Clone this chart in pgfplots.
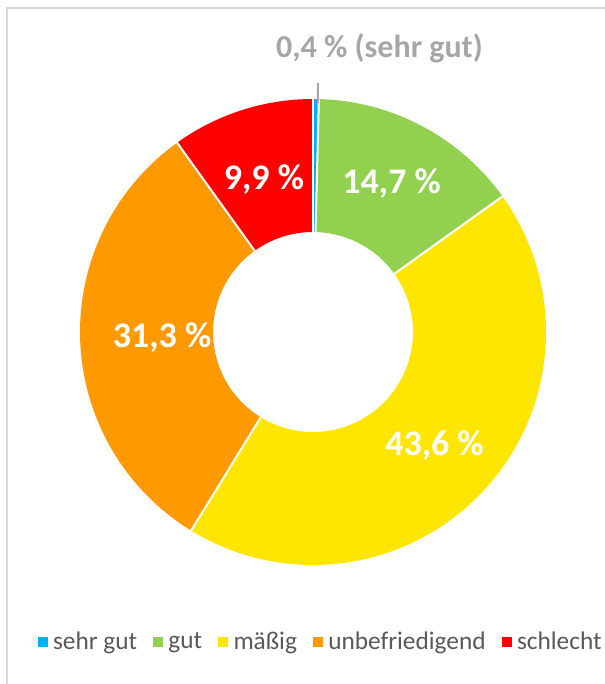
\documentclass[border=0pt]{standalone}
\usepackage{pgfplots}
\pgfplotsset{compat=1.18}
\usepackage{pgfplotstable}
\usepgfplotslibrary{polar}
\usepackage{fontspec}
\setmainfont{Carlito}
\definecolor{cblue}{HTML}{00B0F0}
\definecolor{cgreen}{HTML}{92D050}
\definecolor{cyellow}{HTML}{FFE600}
\definecolor{corange}{HTML}{FF9900}
\definecolor{cred}{HTML}{FF0000}
\definecolor{txtgrey}{HTML}{595959}
\definecolor{labgrey}{HTML}{A6A6A6}
\definecolor{framegrey}{HTML}{D9D9D9}

\pgfplotstableread{
grade value
sehrgut 0.4
gut 14.7
maessig 43.6
unbefriedigend 31.3
schlecht 9.9
}\gradetable

\begin{document}
\begin{tikzpicture}[x=0.75pt,y=0.75pt]
\pgfplotstablegetelem{0}{value}\of\gradetable \let\vA\pgfplotsretval
\pgfplotstablegetelem{1}{value}\of\gradetable \let\vB\pgfplotsretval
\pgfplotstablegetelem{2}{value}\of\gradetable \let\vC\pgfplotsretval
\pgfplotstablegetelem{3}{value}\of\gradetable \let\vD\pgfplotsretval
\pgfplotstablegetelem{4}{value}\of\gradetable \let\vE\pgfplotsretval
\pgfmathsetmacro\tot{\vA+\vB+\vC+\vD+\vE}
\pgfmathsetmacro\degper{360/\tot}
\pgfmathsetmacro\aA{90}
\pgfmathsetmacro\aB{\aA-\vA*\degper}
\pgfmathsetmacro\aC{\aB-\vB*\degper}
\pgfmathsetmacro\aD{\aC-\vC*\degper}
\pgfmathsetmacro\aE{\aD-\vD*\degper}
\pgfmathsetmacro\aF{\aE-\vE*\degper}
\pgfmathsetmacro\mB{(\aB+\aC)/2}
\pgfmathsetmacro\mC{(\aC+\aD)/2}
\pgfmathsetmacro\mD{(\aD+\aE)/2}
\pgfmathsetmacro\mE{(\aE+\aF)/2}
\useasboundingbox (0,0) rectangle (605,684);
\draw[framegrey, line width=1.5pt] (7,0) -- (7,676) -- (605,676);
\begin{polaraxis}[
  at={(313,352)}, anchor=center,
  hide axis, scale only axis,
  width=349.5pt, height=349.5pt,
  ymin=0, ymax=233, xmin=0, xmax=360,
  clip=false,
  legend columns=-1,
  legend image code/.code={\fill[#1, draw=none, line width=0pt] (0pt,-3.75pt) rectangle (7.5pt,3.75pt);},
  legend style={at={(0.52,-0.165)}, anchor=center, draw=none, fill=none,
    text=txtgrey, font=\fontsize{19}{21}\selectfont,
    nodes={inner xsep=4pt},
    /tikz/every even column/.append style={column sep=8pt}},
]
\addplot[color=cblue, line width=99.75pt, domain=\aB:\aA, samples=6] {166.5};
\addlegendentry{sehr gut}
\addplot[color=cgreen, line width=99.75pt, domain=\aC:\aB, samples=40] {166.5};
\addlegendentry{gut}
\addplot[color=cyellow, line width=99.75pt, domain=\aD:\aC, samples=120] {166.5};
\addlegendentry{mäßig}
\addplot[color=corange, line width=99.75pt, domain=\aE:\aD, samples=90] {166.5};
\addlegendentry{unbefriedigend}
\addplot[color=cred, line width=99.75pt, domain=\aF:\aE, samples=30] {166.5};
\addlegendentry{schlecht}
\addplot[white, line width=1.5pt, forget plot] coordinates {(\aA,99) (\aA,234)};
\addplot[white, line width=1.5pt, forget plot] coordinates {(\aB,99) (\aB,234)};
\addplot[white, line width=1.5pt, forget plot] coordinates {(\aC,99) (\aC,234)};
\addplot[white, line width=1.5pt, forget plot] coordinates {(\aD,99) (\aD,234)};
\addplot[white, line width=1.5pt, forget plot] coordinates {(\aE,99) (\aE,234)};
\addplot[labgrey, line width=1.5pt, forget plot] coordinates {(88.75,229) (88.85,249)};
\node[white, font=\bfseries\fontsize{27}{30}\selectfont] at (axis cs:\mB,168) {14,7 \%};
\node[white, font=\bfseries\fontsize{27}{30}\selectfont] at (axis cs:\mC,166) {43,6 \%};
\node[white, font=\bfseries\fontsize{27}{30}\selectfont] at (axis cs:\mD,151) {31,3 \%};
\node[white, font=\bfseries\fontsize{27}{30}\selectfont] at (axis cs:\mE,160) {9,9 \%};
\end{polaraxis}
\node[labgrey, font=\bfseries\fontsize{24}{28}\selectfont] at (379.5,636) {0,4 \% (sehr gut)};
\end{tikzpicture}
\end{document}
